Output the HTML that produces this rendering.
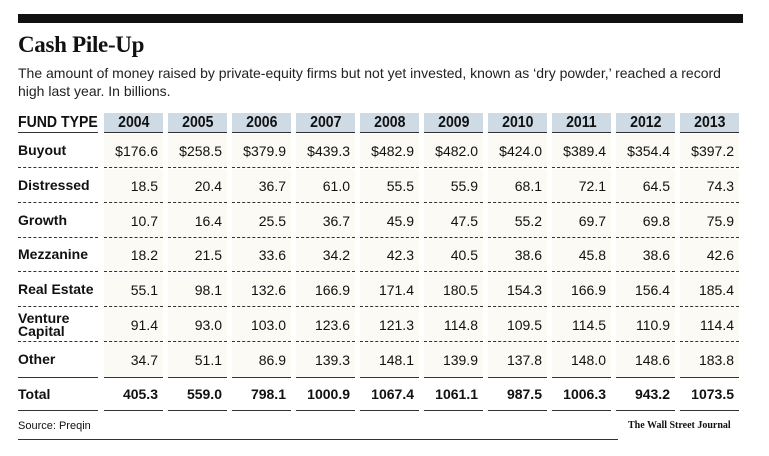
<!DOCTYPE html>
<html><head><meta charset="utf-8">
<style>
body{margin:0;width:769px;height:456px;background:#fff;position:relative;overflow:hidden;font-family:"Liberation Sans",sans-serif;color:#111}
.a{position:absolute}
#bar{left:18px;top:14px;width:725px;height:9px;background:#111}
#title{left:18px;top:32px;font:bold 23px "Liberation Serif",serif;letter-spacing:-0.3px}
#sub{left:18px;top:64px;width:720px;font-size:14px;line-height:18px;color:#222}
.hd{height:19px;background:#cfdbe4;border-bottom:1.5px solid #333;text-align:center;font:bold 16px "Liberation Sans Narrow","Liberation Sans",sans-serif;line-height:20px;white-space:nowrap}
.hd span{display:inline-block;transform:scaleX(0.88)}
.bg{background:#fbfaf4}
.c{font-size:14px;text-align:right;height:34px;line-height:34px;border-bottom:1px dashed #333;box-sizing:border-box;padding-right:5px}
.l{font-weight:bold;font-size:14px;height:34px;border-bottom:1px dashed #333;box-sizing:border-box;display:flex;align-items:center;line-height:13px}
.t{border-top:1.5px solid #333;border-bottom:1.5px solid #333;font-weight:bold}
</style></head><body>
<div class="a" id="bar"></div>
<div class="a" id="title">Cash Pile-Up</div>
<div class="a" id="sub">The amount of money raised by private-equity firms but not yet invested, known as ‘dry powder,’ reached a record high last year. In billions.</div>
<div class="a" style="left:18px;top:420px;font-size:11px">Source: Preqin</div>
<div class="a" style="left:628px;top:420px;font:bold 10px 'Liberation Serif',serif">The Wall Street Journal</div>
<div class="a" style="left:18px;top:439px;width:600px;border-top:1px solid #333"></div>
<script>
const years=["2004","2005","2006","2007","2008","2009","2010","2011","2012","2013"];
const fundTypes=["Buyout","Distressed","Growth","Mezzanine","Real Estate","Venture<br>Capital","Other"];
const buyout=["$176.6","$258.5","$379.9","$439.3","$482.9","$482.0","$424.0","$389.4","$354.4","$397.2"];
const distressed=["18.5","20.4","36.7","61.0","55.5","55.9","68.1","72.1","64.5","74.3"];
const growth=["10.7","16.4","25.5","36.7","45.9","47.5","55.2","69.7","69.8","75.9"];
const mezzanine=["18.2","21.5","33.6","34.2","42.3","40.5","38.6","45.8","38.6","42.6"];
const realEstate=["55.1","98.1","132.6","166.9","171.4","180.5","154.3","166.9","156.4","185.4"];
const venture=["91.4","93.0","103.0","123.6","121.3","114.8","109.5","114.5","110.9","114.4"];
const other=["34.7","51.1","86.9","139.3","148.1","139.9","137.8","148.0","148.6","183.8"];
const totals=["405.3","559.0","798.1","1000.9","1067.4","1061.1","987.5","1006.3","943.2","1073.5"];
const rows=[buyout,distressed,growth,mezzanine,realEstate,venture,other];
function mk(cls,x,y,w,html,name){const d=document.createElement('div');d.className='a '+cls;d.style.left=x+'px';d.style.top=y+'px';d.style.width=w+'px';d.innerHTML=html;


document.body.appendChild(d);return d;}
const colX=i=>104+i*64, colW=59, rowY=r=>134+r*34.8;
const h=mk('hd',18,113,80,'<span style="transform-origin:left">FUND TYPE</span>','header-fund-type');h.style.background='none';h.style.textAlign='left';
years.forEach((y,i)=>mk('hd',colX(i),113,colW,'<span>'+y+'</span>','header-'+y));
fundTypes.forEach((f,r)=>{const L=mk('l',18,rowY(r),80,f,'row-label-'+r);
if(r===rows.length-1)L.style.borderBottom='none';
rows[r].forEach((v,i)=>{const d=mk('c bg',colX(i),rowY(r),colW,v,'cell-'+r+'-'+years[i]);if(r===rows.length-1)d.style.borderBottom='none';});});
const ty=rowY(7)-0.5;
const tl=mk('l t',18,ty,80,'Total','row-label-total');
totals.forEach((v,i)=>{const d=mk('c t',colX(i),ty,colW,v,'total-'+years[i]);d.style.lineHeight='32px';});
</script>
</body></html>
